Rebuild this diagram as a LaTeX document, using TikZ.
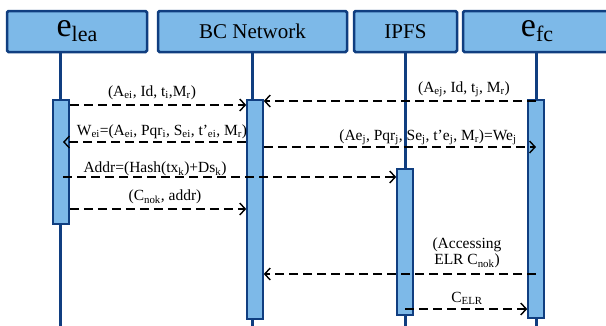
\documentclass[tikz,border=0pt]{standalone}
\usepackage{fontspec}
\setmainfont{Liberation Serif}
\usepackage{tikz}
\usetikzlibrary{arrows.meta,calc,positioning}

\definecolor{boxblue}{RGB}{125,185,232}
\definecolor{lineblue}{RGB}{16,62,128}
\newcommand{\lo}[1]{\textsubscript{#1}}
\newcommand{\hsub}[1]{\raisebox{-5pt}{\fontsize{22}{22}\selectfont #1}}

\begin{document}
\begin{tikzpicture}[x=1pt,y=-1pt,>={Straight Barb[length=5.5pt,width=12pt,line width=1.4pt]},semithick]

   \tikzstyle{head}=[draw=lineblue,fill=boxblue,line width=2.5pt,rounded corners=1.5pt,minimum height=41pt,inner sep=0pt,font=\fontsize{21}{23}\selectfont]
   \tikzstyle{big}=[font=\fontsize{34}{34}\selectfont]
   \tikzstyle{bar}=[draw=lineblue,fill=boxblue,line width=1.6pt,minimum width=16pt,inner sep=0pt]
   \tikzstyle{life}=[draw=lineblue,line width=3pt]
   \tikzstyle{msg}=[->,line width=1.7pt,dash pattern=on 9pt off 5pt]
   \tikzstyle{lbl}=[font=\fontsize{15.5}{16}\selectfont,inner sep=1pt,align=center]

   \useasboundingbox (0,0) rectangle (606,325);

   % header boxes
   \node[head,big,minimum width=140pt] (lea) at (77,31.5) {e\hsub{lea}};
   \node[head,minimum width=189pt] (bc) at (252.5,31.5) {BC Network};
   \node[head,minimum width=103pt] (ipfs) at (405.5,31.5) {IPFS};
   \node[head,big,minimum width=148pt] (fc) at (537,31.5) {e\hsub{fc}};

   % lifelines
   \coordinate (lea_top) at (60,52);   \coordinate (lea_bot) at (60,326);
   \coordinate (bc_top) at (252,52);   \coordinate (bc_bot) at (252,326);
   \coordinate (ipfs_top) at (405,52); \coordinate (ipfs_bot) at (405,326);
   \coordinate (fc_top) at (536,52);   \coordinate (fc_bot) at (536,326);
   \draw[life] (lea_top) -- (lea_bot);
   \draw[life] (bc_top) -- (bc_bot);
   \draw[life] (ipfs_top) -- (ipfs_bot);
   \draw[life] (fc_top) -- (fc_bot);

   % activation bars
   \node[bar,minimum height=124pt] (leabar) at (61,162) {};
   \node[bar,minimum height=219pt] (bcbar) at (255,209.5) {};
   \node[bar,minimum height=146pt] (ipfsbar) at (405,242) {};
   \node[bar,minimum height=218pt] (fcbar) at (536,209) {};

   % message levels
   \coordinate (m1) at (0,105);
   \coordinate (m2) at (0,101);
   \coordinate (m3) at (0,142);
   \coordinate (m4) at (0,147);
   \coordinate (m5) at (0,177);
   \coordinate (m6) at (0,209);
   \coordinate (m7) at (0,274);
   \coordinate (m8) at (0,309);

   \draw[msg] (leabar.east |- m1) -- (bcbar.west |- m1);
   \draw[msg] (fcbar.center |- m2) -- (bcbar.east |- m2);
   \draw[msg] (bcbar.west |- m3) -- ([xshift=2pt]leabar.center |- m3);
   \draw[msg] (bcbar.east |- m4) -- (fcbar.center |- m4);
   \draw[msg] ([xshift=2pt]leabar.center |- m5) -- (ipfsbar.west |- m5);
   \draw[msg] (leabar.east |- m6) -- (bcbar.west |- m6);
   \draw[msg] (fcbar.center |- m7) -- (bcbar.east |- m7);
   \draw[msg] (ipfsbar.center |- m8) -- (fcbar.west |- m8);

   % labels
   \node[lbl] (l1) at (152,93) {(A\lo{ei}, Id, t\lo{i},M\lo{r})};
   \node[lbl] (l2) at (464,89) {(A\lo{ej}, Id, t\lo{j}, M\lo{r})};
   \node[lbl] (l3) at (162,132) {W\lo{ei}=(A\lo{ei}, Pqr\lo{i}, S\lo{ei}, t'\lo{ei}, M\lo{r})};
   \node[lbl] (l4) at (428,137) {(Ae\lo{j}, Pqr\lo{j}, Se\lo{j}, t'e\lo{j}, M\lo{r})=We\lo{j}};
   \node[lbl] (l5) at (155,169) {Addr=(Hash(tx\lo{k})+Ds\lo{k})};
   \node[lbl] (l6) at (165,197) {(C\lo{nok}, addr)};
   \node[lbl] (l7) at (467,253) {(Accessing\\ELR C\lo{nok})};
   \node[lbl] (l8) at (467,298) {C\lo{ELR}};

\end{tikzpicture}
\end{document}
